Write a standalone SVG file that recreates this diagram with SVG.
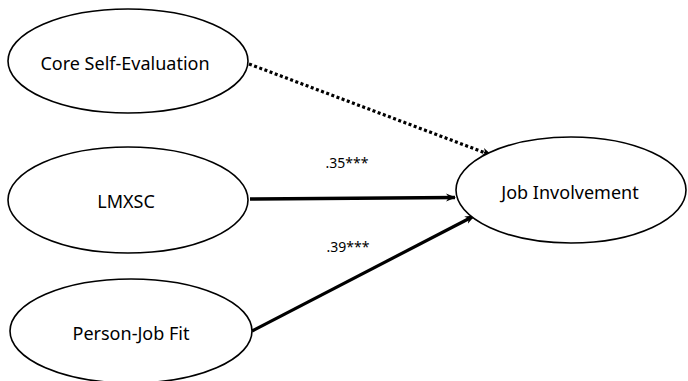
<svg xmlns="http://www.w3.org/2000/svg" width="688" height="381" viewBox="0 0 688 381">
<defs>
<style>
.node ellipse{fill:#fff;stroke:#000;stroke-width:1.6}
.lbl{font-family:"Noto Sans","Open Sans",sans-serif;font-size:18px;fill:#000;text-anchor:middle;dominant-baseline:central}
.coef{font-family:"Noto Sans","Open Sans",sans-serif;font-size:14px;fill:#000;text-anchor:middle}
.edge{fill:none;stroke:#000}
</style>
<marker id="arr" viewBox="0 0 10 10" refX="9" refY="5" markerWidth="10" markerHeight="10" markerUnits="userSpaceOnUse" orient="auto">
<path d="M0,1 L10,5 L0,9 L3,5 Z" fill="#000"/>
</marker>
</defs>
<rect width="688" height="381" fill="#fff"/>
<g id="connectors">
<line class="edge" x1="249" y1="64" x2="484" y2="152.4" stroke-width="3.2" stroke-dasharray="3,2.5"/>
<line class="edge" x1="484" y1="152.4" x2="491" y2="155" stroke-width="2" marker-end="url(#arr)"/>
<line class="edge" x1="250" y1="199" x2="455" y2="197.5" stroke-width="3.5" marker-end="url(#arr)"/>
<line class="edge" x1="252" y1="331" x2="474" y2="216" stroke-width="3.2" marker-end="url(#arr)"/>
<text class="coef" x="347" y="168">.35***</text>
<text class="coef" x="348" y="252">.39***</text>
</g>
<g id="cse" class="node">
<ellipse cx="128" cy="61" rx="120" ry="52"/>
<text class="lbl" x="125" y="63">Core Self-Evaluation</text>
</g>
<g id="lmxsc" class="node">
<ellipse cx="128" cy="200" rx="120" ry="53"/>
<text class="lbl" x="126" y="201">LMXSC</text>
</g>
<g id="pjf" class="node">
<ellipse cx="131" cy="331" rx="121" ry="52"/>
<text class="lbl" x="131" y="333">Person-Job Fit</text>
</g>
<g id="ji" class="node">
<ellipse cx="571" cy="190" rx="115" ry="53"/>
<text class="lbl" x="570" y="192">Job Involvement</text>
</g>
</svg>
